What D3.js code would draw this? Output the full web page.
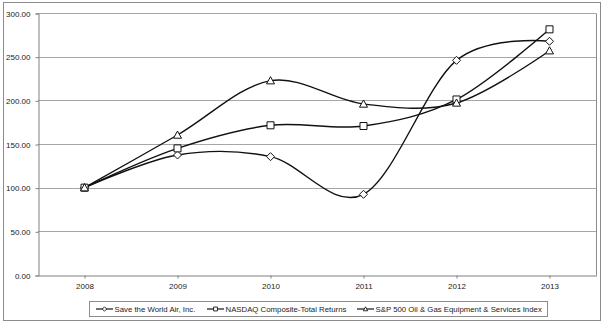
<!DOCTYPE html>
<html>
<head>
<meta charset="utf-8">
<script src="https://cdn.jsdelivr.net/npm/d3@7"></script>
<style>
  html, body { margin: 0; padding: 0; background: #fff; }
  svg { display: block; font-family: "Liberation Sans", Arial, sans-serif; }
</style>
</head>
<body>
<svg id="chart" width="605" height="324"></svg>
<script>
// Cumulative total return, indexed to 100 in 2008
const years = ["2008", "2009", "2010", "2011", "2012", "2013"];
const saveTheWorldAir = [100, 137.4, 135.5, 92.4, 245.8, 267.6];
const nasdaqComposite = [100, 145, 171.4, 170.6, 201, 281.3];
const spOilGas = [100, 160.3, 222.5, 195.8, 197, 256.8];
const yTicks = [0, 50, 100, 150, 200, 250, 300];

const seriesNames = [
  "Save the World Air, Inc.",
  "NASDAQ Composite-Total Returns",
  "S&P 500 Oil & Gas Equipment & Services Index"
];
const series = [
  { name: seriesNames[0], values: saveTheWorldAir, marker: "diamond" },
  { name: seriesNames[1], values: nasdaqComposite, marker: "square" },
  { name: seriesNames[2], values: spOilGas, marker: "triangle" }
];

const svg = d3.select("#chart");
const plot = { left: 38, right: 596, top: 13, bottom: 275 };

// outer frame
svg.append("rect")
  .attr("x", 3.5).attr("y", 2.5)
  .attr("width", 597).attr("height", 318)
  .attr("fill", "#fff").attr("stroke", "#8c8c8c").attr("stroke-width", 1);

const x = d3.scaleBand().domain(years).range([plot.left, plot.right]);
const xc = d => x(d) + x.bandwidth() / 2;
const y = d3.scaleLinear().domain([0, 300]).range([plot.bottom, plot.top]);

// horizontal gridlines
svg.append("g")
  .selectAll("line")
  .data(yTicks.filter(t => t > 0))
  .join("line")
  .attr("x1", plot.left).attr("x2", plot.right)
  .attr("y1", d => Math.round(y(d)) + 0.5).attr("y2", d => Math.round(y(d)) + 0.5)
  .attr("stroke", "#a6a6a6").attr("stroke-width", 1);

// right border of plot area
svg.append("line")
  .attr("x1", plot.right + 0.5).attr("x2", plot.right + 0.5)
  .attr("y1", Math.round(y(300)) + 0.5).attr("y2", plot.bottom + 0.5)
  .attr("stroke", "#8c8c8c");

// y axis
const yAxis = d3.axisLeft(y).tickValues(yTicks).tickFormat(d3.format(".2f"))
  .tickSize(3).tickPadding(5);
const gy = svg.append("g").attr("transform", `translate(${plot.left + 0.5},0.5)`).call(yAxis);
gy.select(".domain").attr("stroke", "#808080");
gy.selectAll(".tick line").attr("stroke", "#808080");
gy.selectAll(".tick text").attr("font-size", 8).attr("fill", "#222")
  .attr("font-family", "Liberation Sans, Arial, sans-serif");

// x axis
const xAxis = d3.axisBottom(x).tickSize(3).tickPadding(5).tickSizeOuter(0);
const gx = svg.append("g").attr("transform", `translate(0.5,${plot.bottom + 0.5})`).call(xAxis);
gx.select(".domain").attr("stroke", "#808080");
gx.selectAll(".tick line").attr("stroke", "#808080");
gx.selectAll(".tick text").attr("font-size", 8).attr("fill", "#222")
  .attr("font-family", "Liberation Sans, Arial, sans-serif");

// smoothed lines
const line = d3.line()
  .x((d, i) => xc(years[i]))
  .y(d => y(d))
  .curve(d3.curveCatmullRom.alpha(0));

svg.append("g").selectAll("path")
  .data(series)
  .join("path")
  .attr("d", s => line(s.values))
  .attr("fill", "none").attr("stroke", "#111").attr("stroke-width", 1.4);

// marker shapes
function markerPath(type, cx, cy) {
  if (type === "diamond") {
    const r = 4;
    return `M${cx},${cy - r}L${cx + r},${cy}L${cx},${cy + r}L${cx - r},${cy}Z`;
  }
  if (type === "square") {
    const r = 3.5;
    return `M${cx - r},${cy - r}H${cx + r}V${cy + r}H${cx - r}Z`;
  }
  const r = 4;
  return `M${cx},${cy - r}L${cx + r},${cy + r * 0.8}L${cx - r},${cy + r * 0.8}Z`;
}

series.forEach(s => {
  svg.append("g").selectAll("path")
    .data(s.values)
    .join("path")
    .attr("d", (d, i) => markerPath(s.marker, xc(years[i]), y(d)))
    .attr("fill", "#fff").attr("stroke", "#111").attr("stroke-width", 1);
});

// legend
const legend = svg.append("g");
legend.append("rect")
  .attr("x", 89.5).attr("y", 301.5).attr("width", 458).attr("height", 15)
  .attr("fill", "#fff").attr("stroke", "#8c8c8c");

const legendX = [96, 207, 357];
series.forEach((s, i) => {
  const g = legend.append("g").attr("transform", `translate(${legendX[i]},309)`);
  g.append("line").attr("x1", 0).attr("x2", 17).attr("y1", 0).attr("y2", 0)
    .attr("stroke", "#111").attr("stroke-width", 1.2);
  const scale = 0.55;
  g.append("path")
    .attr("d", markerPath(s.marker, 0, 0))
    .attr("transform", `translate(8.5,0) scale(${scale})`)
    .attr("fill", "#fff").attr("stroke", "#111").attr("stroke-width", 1.6);
  g.append("text")
    .attr("x", 18.5).attr("y", 2.8)
    .attr("font-size", 7.8).attr("fill", "#222")
    .text(s.name);
});
</script>
</body>
</html>
